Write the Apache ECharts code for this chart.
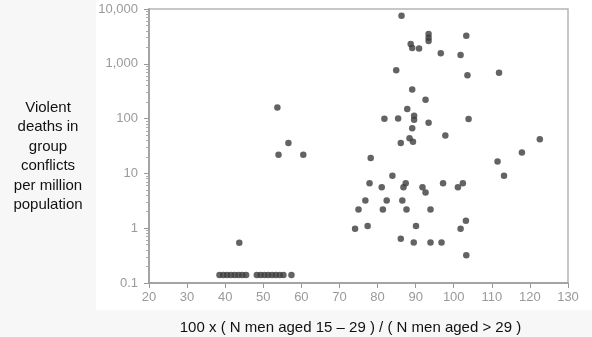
<!DOCTYPE html>
<html>
<head>
<meta charset="utf-8">
<script src="https://cdn.jsdelivr.net/npm/echarts@6/dist/echarts.min.js"></script>
<style>
  html, body { margin: 0; padding: 0; background: #f7f7f7; }
  #chart { width: 592px; height: 337px; }
</style>
</head>
<body>
<div id="chart"></div>
<script>
// [ratio, deaths per million]
const lowRatioPoints = [
  [53.7, 160], [56.6, 36], [54, 22], [60.5, 22], [43.7, 0.54]
];
// countries sitting on the 0.1 floor (no deaths)
const floorX = [38.5, 39.5, 40.5, 41.5, 42.5, 43.5, 44.5, 45.5,
                48.3, 49.3, 50.3, 51.3, 52.3, 53.3, 54.3, 55.3, 57.4];
const floorY = 0.14;
const highDeathPoints = [
  [86.3, 7500], [93.4, 3500], [93.4, 3000], [93.4, 2600], [88.7, 2300],
  [89.1, 1950], [90.9, 1900], [96.6, 1550], [84.9, 760], [89.1, 340],
  [92.6, 220], [87.8, 150], [81.8, 99], [85.4, 100], [89.6, 113],
  [89.6, 95], [93.4, 84], [89.1, 67], [97.8, 49], [86.1, 36],
  [88.4, 44], [89.3, 38], [103.3, 3250], [101.8, 1450], [103.6, 620],
  [111.9, 690], [103.9, 98], [122.6, 42]
];
const lowDeathPoints = [
  [78.2, 19], [83.9, 9.1], [77.9, 6.6], [81.1, 5.6], [87.4, 6.6],
  [86.8, 5.6], [91.8, 5.6], [92.6, 4.5], [97.2, 6.6], [76.8, 3.2],
  [82.4, 3.2], [86.5, 3.2], [75, 2.2], [81.4, 2.2], [87.6, 2.2],
  [93.9, 2.2], [74.1, 0.98], [77.4, 1.1], [90.1, 1.1], [86.1, 0.64],
  [89.5, 0.55], [93.9, 0.55], [96.8, 0.55], [117.9, 24], [111.5, 16.5],
  [113.2, 9.1], [101.1, 5.6], [102.4, 6.6], [103.2, 1.37], [101.8, 0.98],
  [103.3, 0.32]
];
const yTickLabels = { 0.1: '0.1', 1: '1', 10: '10', 100: '100', 1000: '1,000', 10000: '10,000' };
const yName = 'Violent\ndeaths in\ngroup\nconflicts\nper million\npopulation';
const xName = '100 x ( N men aged 15 \u2013 29 ) / ( N men aged > 29 )';

const floorPoints = floorX.map(x => [x, floorY]);
const allPoints = [...lowRatioPoints, ...floorPoints, ...highDeathPoints, ...lowDeathPoints];

const chart = echarts.init(document.getElementById('chart'));
chart.setOption({
  animation: false,
  backgroundColor: '#f7f7f7',
  graphic: [{
    type: 'rect', z: -10, silent: true,
    shape: { x: 96, y: 0, width: 496, height: 310 },
    style: { fill: '#ffffff' }
  }, {
    // y axis title sits left of the white panel, centred lines
    type: 'text', silent: true, x: 48, y: 98,
    style: {
      text: yName, fill: '#111', font: '15px "Liberation Sans"',
      textAlign: 'center', textVerticalAlign: 'top', lineHeight: 19.5
    }
  }],
  grid: {
    left: 149, right: 24, top: 9, bottom: 54,
    outerBoundsMode: 'none', containLabel: false,
    show: true, borderColor: '#b5b5b5', borderWidth: 1.5
  },
  xAxis: {
    type: 'value', min: 20, max: 130, interval: 10,
    name: xName, nameLocation: 'middle', nameGap: 37,
    nameTextStyle: { color: '#111', fontSize: 15, fontFamily: 'Liberation Sans', padding: [0, 16, 0, 0] },
    axisLine: { lineStyle: { color: '#999', width: 1.5 } },
    axisTick: { show: true, length: 5, lineStyle: { color: '#999' } },
    axisLabel: { color: '#9a9a9a', fontSize: 13, fontFamily: 'Liberation Sans', margin: 8 },
    splitLine: { show: false }
  },
  yAxis: {
    type: 'log', logBase: 10, min: 0.1, max: 10000,
    axisLine: { show: true, lineStyle: { color: '#999', width: 1.5 } },
    axisTick: { show: true, length: 5, lineStyle: { color: '#999' } },
    minorTick: { show: true, splitNumber: 9, length: 3, lineStyle: { color: '#aaa' } },
    axisLabel: {
      color: '#9a9a9a', fontSize: 13, fontFamily: 'Liberation Sans', margin: 11,
      formatter: v => yTickLabels[v] !== undefined ? yTickLabels[v] : ''
    },
    splitLine: { show: false }
  },
  series: [{
    type: 'scatter',
    symbolSize: 6.5,
    itemStyle: { color: '#3c3c3c' },
    data: allPoints
  }]
});
</script>
</body>
</html>
